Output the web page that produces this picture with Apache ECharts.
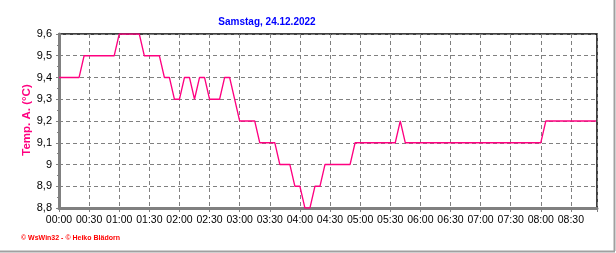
<!DOCTYPE html>
<html>
<head>
<meta charset="utf-8">
<script src="https://cdn.jsdelivr.net/npm/echarts@6/dist/echarts.min.js"></script>
<style>
html,body{margin:0;padding:0;background:#fff;}
#c{width:616px;height:253px;}
</style>
</head>
<body>
<div id="c"></div>
<script>
// minutes since 00:00
var times = [0,20,25,55,60,80,85,100,105,110,115,120,125,130,135,140,145,150,160,165,170,180,195,200,215,220,230,235,240,245,250,255,260,265,290,295,335,340,345,480,485,535];
var temps = [9.4,9.4,9.5,9.5,9.6,9.6,9.5,9.5,9.4,9.4,9.3,9.3,9.4,9.4,9.3,9.4,9.4,9.3,9.3,9.4,9.4,9.2,9.2,9.1,9.1,9.0,9.0,8.9,8.9,8.8,8.8,8.9,8.9,9.0,9.0,9.1,9.1,9.2,9.1,9.1,9.2,9.2];
var titleText = 'Samstag, 24.12.2022';
var yName = 'Temp. A. (°C)';
var footer = '© WsWin32 - © Heiko Blädorn';

var data = times.map(function(t,i){return [t, temps[i]];});
function hhmm(v){var h=Math.floor(v/60),m=v%60;return (h<10?'0':'')+h+':'+(m<10?'0':'')+m;}
var FF = '"Liberation Sans", Arial, sans-serif';
var chart = echarts.init(document.getElementById('c'), null, {renderer:'canvas'});
chart.setOption({
  animation:false,
  backgroundColor:'#fff',
  title:{text:titleText,left:262,top:12,textAlign:'center',
    textStyle:{color:'#0000ff',fontSize:10,fontWeight:'bold',fontFamily:FF}},
  grid:{left:59,right:19,top:34,bottom:45,show:true,borderColor:'#000',borderWidth:1.5,backgroundColor:'transparent'},
  xAxis:{type:'value',min:0,max:536,interval:30,
    axisLine:{show:true,lineStyle:{color:'#808080',width:3}},
    axisTick:{show:true,length:4,lineStyle:{color:'#808080',width:1}},
    minorTick:{show:true,splitNumber:3,length:2,lineStyle:{color:'#808080',width:1}},
    splitLine:{show:true,lineStyle:{color:'#808080',type:[4,3],width:1}},
    axisLabel:{showMaxLabel:false,margin:7,color:'#000',fontSize:10.5,fontFamily:FF,formatter:hhmm}},
  yAxis:{type:'value',min:8.8,max:9.6,interval:0.1,
    axisLine:{show:true,lineStyle:{color:'#808080',width:3}},
    axisTick:{show:true,length:3,lineStyle:{color:'#808080',width:1}},
    minorTick:{show:true,splitNumber:2,length:2,lineStyle:{color:'#808080',width:1}},
    splitLine:{show:true,lineStyle:{color:'#808080',type:[4,3],width:1}},
    axisLabel:{margin:7,color:'#000',fontSize:11,fontFamily:FF,formatter:function(v){
      var s=(Math.round(v*10)/10).toFixed(1); if(s.slice(-2)==='.0') s=s.slice(0,-2); return s.replace('.',',');}}},
  series:[{type:'line',data:data,symbol:'none',lineStyle:{color:'#ff0080',width:1.3},z:5}],
  graphic:[
    {type:'text',x:27,y:120,rotation:Math.PI/2,style:{text:yName,fill:'#ff0080',font:'bold 11.5px '+FF,align:'center',verticalAlign:'middle'}},
    {type:'text',left:21,top:235,style:{text:footer,fill:'#ff0000',font:'bold 7px '+FF}},
    {type:'line',shape:{x1:614.5,y1:0,x2:614.5,y2:251},style:{stroke:'#a0a0a0',lineWidth:2}},
    {type:'line',shape:{x1:0,y1:251.5,x2:615,y2:251.5},style:{stroke:'#a0a0a0',lineWidth:2}}
  ]
});
</script>
</body>
</html>
